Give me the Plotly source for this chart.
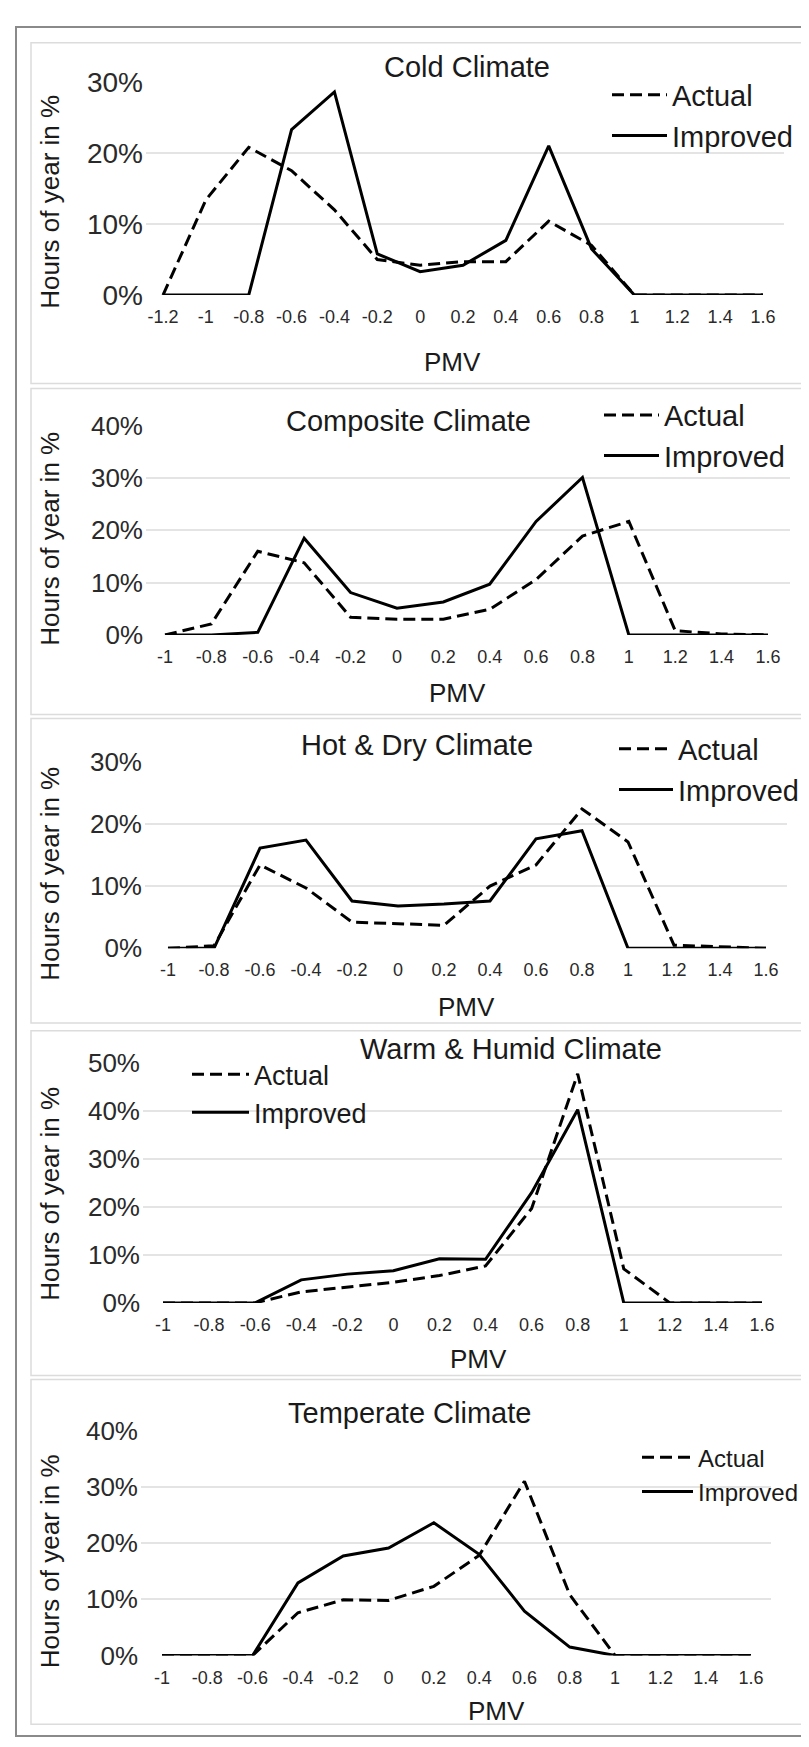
import plotly.graph_objects as go

W, H = 809, 1747

# ---------------- data ----------------
pmv_cold = [-1.2, -1.0, -0.8, -0.6, -0.4, -0.2, 0.0, 0.2, 0.4, 0.6, 0.8, 1.0, 1.2, 1.4, 1.6]
pmv_cold_labels = ["-1.2", "-1", "-0.8", "-0.6", "-0.4", "-0.2", "0", "0.2", "0.4", "0.6", "0.8", "1", "1.2", "1.4", "1.6"]
pmv = [-1.0, -0.8, -0.6, -0.4, -0.2, 0.0, 0.2, 0.4, 0.6, 0.8, 1.0, 1.2, 1.4, 1.6]
pmv_labels = ["-1", "-0.8", "-0.6", "-0.4", "-0.2", "0", "0.2", "0.4", "0.6", "0.8", "1", "1.2", "1.4", "1.6"]

cold_actual = [0, 13.4, 20.8, 17.5, 12.0, 5.0, 4.2, 4.7, 4.7, 10.4, 7.0, 0, 0, 0, 0]
cold_improved = [0, 0, 0, 23.3, 28.6, 5.8, 3.3, 4.2, 7.7, 21.0, 6.5, 0, 0, 0, 0]

composite_actual = [0, 2.1, 16.0, 13.8, 3.4, 3.0, 3.0, 4.9, 10.6, 18.9, 21.7, 0.8, 0.2, 0]
composite_improved = [0, 0, 0.5, 18.5, 8.1, 5.1, 6.3, 9.7, 21.7, 30.1, 0, 0, 0, 0]

hotdry_actual = [0, 0.4, 13.4, 9.7, 4.2, 3.9, 3.7, 10.0, 13.4, 22.4, 17.1, 0.5, 0.2, 0]
hotdry_improved = [0, 0, 16.1, 17.4, 7.6, 6.8, 7.1, 7.6, 17.6, 18.9, 0, 0, 0, 0]

warm_actual = [0, 0, 0, 2.3, 3.3, 4.3, 5.7, 7.7, 19.7, 47.8, 7.1, 0, 0, 0]
warm_improved = [0, 0, 0, 4.8, 6.0, 6.7, 9.2, 9.1, 23.0, 40.3, 0, 0, 0, 0]

temperate_actual = [0, 0, 0, 7.6, 9.9, 9.8, 12.3, 17.8, 31.0, 10.8, 0, 0, 0, 0]
temperate_improved = [0, 0, 0, 12.9, 17.7, 19.1, 23.6, 18.0, 7.9, 1.5, 0, 0, 0, 0]

titles = ["Cold Climate", "Composite Climate", "Hot & Dry Climate",
          "Warm & Humid Climate", "Temperate Climate"]
y_max = [30, 40, 30, 50, 40]
series_names = ["Actual", "Improved"]
y_title = "Hours of year in %"
x_title = "PMV"

# ---------------- layout helpers (pixel geometry) ----------------
def fx(px):
    return px / W

def fy(py):
    return 1 - py / H

FONT = "Liberation Sans, Arial, sans-serif"
TXT = "#1a1a1a"

panels = [
    dict(x=pmv_cold, lab=pmv_cold_labels, a=cold_actual, i=cold_improved,
         L=138, R=776, first=155, last=755, top=60, bot=277, box=(20, 367),
         title=(459, 45), ytfs=28, pmv=(444, 345), ytitle=182,
         leg=(666, 94), lfs=29, iw=55),
    dict(x=pmv, lab=pmv_labels, a=composite_actual, i=composite_improved,
         L=138, R=782, first=157, last=760, top=410, bot=623, box=(372, 704),
         title=(400, 405), ytfs=26, pmv=(449, 682), ytitle=525,
         leg=(658, 420), lfs=29, iw=55),
    dict(x=pmv, lab=pmv_labels, a=hotdry_actual, i=hotdry_improved,
         L=137, R=779, first=160, last=758, top=752, bot=942, box=(708, 1018),
         title=(409, 735), ytfs=26, pmv=(459, 1002), ytitle=866,
         leg=(672, 760), lfs=29, iw=54),
    dict(x=pmv, lab=pmv_labels, a=warm_actual, i=warm_improved,
         L=135, R=774, first=155, last=754, top=1059, bot=1303, box=(1026, 1377),
         title=(503, 1045), ytfs=26, pmv=(470, 1360), ytitle=1192,
         leg=(248, 1090), lfs=27, iw=57),
    dict(x=pmv, lab=pmv_labels, a=temperate_actual, i=temperate_improved,
         L=133, R=763, first=154, last=743, top=1433, bot=1662, box=(1381, 1732),
         title=(401, 1415), ytfs=26, pmv=(488, 1718), ytitle=1566,
         leg=(692, 1478), lfs=24, iw=51),
]

fig = go.Figure()
layout = dict(
    width=W, height=H,
    margin=dict(l=0, r=0, t=0, b=0),
    paper_bgcolor="white", plot_bgcolor="white",
    font=dict(family=FONT, color=TXT),
    showlegend=True,
    annotations=[], shapes=[],
)

# outer frame
layout["shapes"].append(dict(type="rect", xref="paper", yref="paper",
                             x0=fx(8), x1=fx(806), y0=fy(1744), y1=fy(4),
                             line=dict(color="#8a8a8a", width=2), layer="below"))

for k, p in enumerate(panels):
    n = k + 1
    xa = "xaxis" if n == 1 else f"xaxis{n}"
    ya = "yaxis" if n == 1 else f"yaxis{n}"
    xr_ = "x" if n == 1 else f"x{n}"
    yr_ = "y" if n == 1 else f"y{n}"
    lg = "legend" if n == 1 else f"legend{n}"

    xs = p["x"]
    scale = (p["last"] - p["first"]) / (xs[-1] - xs[0])
    r0 = xs[0] - (p["first"] - p["L"]) / scale
    r1 = xs[-1] + (p["R"] - p["last"]) / scale

    fig.add_trace(go.Scatter(x=xs, y=p["a"], mode="lines", name=series_names[0],
                             line=dict(color="black", width=3, dash="12px,6px"),
                             xaxis=xr_, yaxis=yr_, legend=lg, hoverinfo="skip"))
    fig.add_trace(go.Scatter(x=xs, y=p["i"], mode="lines", name=series_names[1],
                             line=dict(color="black", width=3),
                             xaxis=xr_, yaxis=yr_, legend=lg, hoverinfo="skip"))

    layout[xa] = dict(domain=[fx(p["L"]), fx(p["R"])], range=[r0, r1],
                      anchor=yr_, tickmode="array", tickvals=xs, ticktext=p["lab"],
                      showgrid=False, zeroline=False, showline=False, ticks="",
                      tickfont=dict(size=18, color="#2a2a2a", family=FONT),
                      ticklabelstandoff=9, fixedrange=True)
    layout[ya] = dict(domain=[fy(p["bot"]), fy(p["top"])], range=[0, y_max[k]],
                      anchor=xr_, tickmode="linear", tick0=0, dtick=10, ticksuffix="%",
                      showgrid=True, gridcolor="#e4e4e4", gridwidth=1.5,
                      zeroline=False, showline=False, ticks="",
                      tickfont=dict(size=p["ytfs"], color="#2a2a2a", family=FONT),
                      ticklabelstandoff=2, fixedrange=True)

    layout[lg] = dict(x=fx(p["leg"][0] - p["iw"] - 12), xanchor="left",
                      y=fy(p["leg"][1]), yanchor="middle",
                      bgcolor="rgba(0,0,0,0)", borderwidth=0,
                      font=dict(size=p["lfs"], color=TXT, family=FONT),
                      itemwidth=p["iw"], tracegroupgap=0)

    # panel box
    layout["shapes"].append(dict(type="rect", xref="paper", yref="paper",
                                 x0=fx(23), x1=fx(801), y0=fy(p["box"][1]), y1=fy(p["box"][0]),
                                 line=dict(color="#dcdcdc", width=1.5), layer="below"))
    # title
    layout["annotations"].append(dict(text=titles[k], xref="paper", yref="paper",
                                      x=fx(p["title"][0]), y=fy(p["title"][1]),
                                      xanchor="center", yanchor="middle", showarrow=False,
                                      font=dict(size=29, color=TXT, family=FONT)))
    # axis titles
    layout["annotations"].append(dict(text=x_title, xref="paper", yref="paper",
                                      x=fx(p["pmv"][0]), y=fy(p["pmv"][1]),
                                      xanchor="center", yanchor="middle", showarrow=False,
                                      font=dict(size=26, color=TXT, family=FONT)))
    layout["annotations"].append(dict(text=y_title, xref="paper", yref="paper",
                                      x=fx(42), y=fy(p["ytitle"]), textangle=-90,
                                      xanchor="center", yanchor="middle", showarrow=False,
                                      font=dict(size=26, color=TXT, family=FONT)))

fig.update_layout(**layout)
fig.write_html("out.html")
